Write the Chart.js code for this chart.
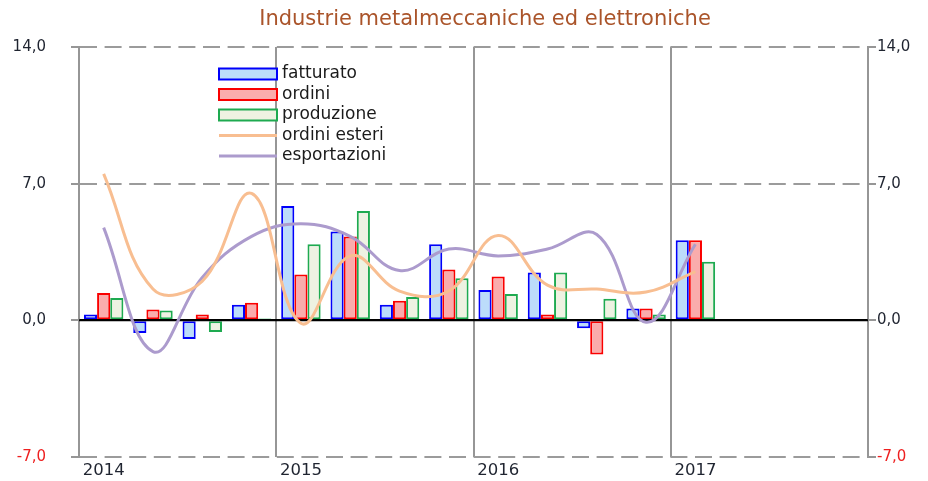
<!DOCTYPE html>
<html><head><meta charset="utf-8">
<script src="https://cdn.jsdelivr.net/npm/chart.js@4"></script>
<style>html,body{margin:0;padding:0;background:#fff}#wrap{position:relative;width:928px;height:481px}</style>
</head><body><div id="wrap"><canvas id="c" width="928" height="481"></canvas></div>
<script>
// ---- data ----
const title = 'Industrie metalmeccaniche ed elettroniche';
const quarters = ['I 2014','II 2014','III 2014','IV 2014','I 2015','II 2015','III 2015','IV 2015','I 2016','II 2016','III 2016','IV 2016','I 2017','II 2017','III 2017','IV 2017'];
const years = ['2014','2015','2016','2017'];
const yTicks = [-7, 0, 7, 14];
const fatturato    = [0.3, -0.65, -0.95, 0.8, 5.85, 4.55, 0.8, 3.9, 1.55, 2.45, -0.4, 0.6, 4.1, null, null, null];
const ordini       = [1.4, 0.55, 0.3, 0.9, 2.35, 4.3, 1.0, 2.6, 2.25, 0.3, -1.75, 0.6, 4.1, null, null, null];
const produzione   = [1.15, 0.5, -0.6, 0.1, 3.9, 5.6, 1.2, 2.15, 1.35, 2.45, 1.1, 0.3, 3.0, null, null, null];
const ordiniEsteri = [7.5, 1.6, 2.0, 6.5, -0.15, 3.3, 1.5, 1.5, 4.35, 1.8, 1.6, 1.45, 2.5, null, null, null];
const esportazioni = [4.75, -1.6, 2.2, 4.3, 4.95, 4.3, 2.55, 3.65, 3.3, 3.65, 4.4, -0.1, 3.9, null, null, null];

const FONT = '"DejaVu Sans", Verdana, sans-serif';
const fmt = v => v.toFixed(1).replace('.', ',');
const tickColor = ctx => (ctx.tick && ctx.tick.value < 0) ? '#ee2020' : '#1f2430';

const titlePlugin = {
  id: 'customTitle',
  afterDraw(chart) {
    const ctx = chart.ctx;
    ctx.save();
    ctx.font = '21px ' + FONT;
    ctx.fillStyle = 'rgb(170,84,42)';
    ctx.textAlign = 'center';
    ctx.textBaseline = 'middle';
    ctx.fillText(title, 485, 20);
    ctx.restore();
  }
};

const legendPlugin = {
  id: 'customLegend',
  afterDraw(chart) {
    const ctx = chart.ctx;
    const x0 = 219, w = 58, y0 = 74, step = 20.5, tx = 282;
    ctx.save();
    ctx.font = '17px ' + FONT;
    ctx.textBaseline = 'middle';
    const order = [2, 3, 4, 0, 1];
    order.forEach((di, r) => {
      const ds = chart.data.datasets[di];
      const y = y0 + r * step;
      if (ds.type === 'line') {
        ctx.strokeStyle = ds.borderColor; ctx.lineWidth = 3;
        ctx.beginPath(); ctx.moveTo(x0, y); ctx.lineTo(x0 + w, y); ctx.stroke();
      } else {
        ctx.fillStyle = ds.backgroundColor;
        ctx.fillRect(x0, y - 5.5, w, 11);
        ctx.strokeStyle = ds.borderColor; ctx.lineWidth = 2;
        ctx.strokeRect(x0, y - 5.5, w, 11);
      }
      ctx.fillStyle = '#1a1a1a';
      ctx.fillText(ds.label, tx, y);
    });
    ctx.restore();
  }
};

const zeroLinePlugin = {
  id: 'zeroLine',
  afterDatasetDraw(chart, args) {
    if (args.index !== 2) return;
    const y = chart.scales.y.getPixelForValue(0);
    const a = chart.chartArea, ctx = chart.ctx;
    ctx.save();
    ctx.strokeStyle = '#000'; ctx.lineWidth = 2;
    ctx.beginPath(); ctx.moveTo(a.left, y); ctx.lineTo(a.right, y); ctx.stroke();
    ctx.restore();
  }
};

const fitY = w => s => { s.width = w; s.paddingTop = 0; s.paddingBottom = 0; };

new Chart(document.getElementById('c'), {
  data: {
    labels: quarters,
    datasets: [
      { type: 'line', label: 'ordini esteri', data: ordiniEsteri, borderColor: 'rgb(248,190,145)', borderWidth: 3, pointRadius: 0, tension: 0.4, order: 0, yAxisID: 'y' },
      { type: 'line', label: 'esportazioni', data: esportazioni, borderColor: 'rgb(172,155,205)', borderWidth: 3, pointRadius: 0, tension: 0.4, order: 0, yAxisID: 'y' },
      { type: 'bar', label: 'fatturato', data: fatturato, backgroundColor: 'rgb(188,220,250)', borderColor: 'rgb(0,0,250)', borderWidth: 2, order: 1, yAxisID: 'y' },
      { type: 'bar', label: 'ordini', data: ordini, backgroundColor: 'rgb(250,172,172)', borderColor: 'rgb(250,0,0)', borderWidth: 2, order: 1, yAxisID: 'y' },
      { type: 'bar', label: 'produzione', data: produzione, backgroundColor: 'rgb(238,242,226)', borderColor: 'rgb(30,170,80)', borderWidth: 2, order: 1, yAxisID: 'y' }
    ]
  },
  options: {
    responsive: false,
    animation: false,
    layout: { padding: { left: 0, right: 0, top: 47, bottom: 0 } },
    datasets: { bar: { categoryPercentage: 0.8, barPercentage: 1.0, borderSkipped: false } },
    plugins: {
      legend: { display: false },
      tooltip: { enabled: false },
      title: { display: false }
    },
    scales: {
      x: {
        offset: true,
        afterFit: s => { s.height = 24; },
        border: { display: false },
        grid: {
          offset: true,
          drawTicks: false,
          lineWidth: 2,
          color: ctx => (ctx.index % 4 === 0) ? 'rgb(150,150,150)' : 'rgba(0,0,0,0)'
        },
        ticks: {
          autoSkip: false, maxRotation: 0, minRotation: 0,
          align: 'start', labelOffset: -21, padding: 4,
          color: '#1f2430',
          font: { family: FONT, size: 16.5 },
          callback: (v, i) => (i % 4 === 0) ? years[i / 4] : ''
        }
      },
      y: {
        position: 'left',
        min: -7, max: 14,
        afterFit: fitY(79),
        afterBuildTicks: s => { s.ticks = yTicks.map(v => ({ value: v })); },
        border: { display: true, color: 'rgb(150,150,150)', width: 2,
                  dash: ctx => (ctx.tick && ctx.tick.value === 0) ? [] : [17, 7.6] },
        grid: {
          lineWidth: 2, tickLength: 8,
          color: ctx => (ctx.tick && ctx.tick.value === 0) ? '#000' : 'rgb(155,155,155)',
          tickColor: 'rgb(150,150,150)'
        },
        ticks: {
          padding: 25,
          color: tickColor,
          font: { family: FONT, size: 15 },
          callback: v => fmt(v)
        }
      },
      y2: {
        position: 'right',
        min: -7, max: 14,
        afterFit: fitY(60),
        afterBuildTicks: s => { s.ticks = yTicks.map(v => ({ value: v })); },
        border: { display: true, color: 'rgb(150,150,150)', width: 2 },
        grid: { drawOnChartArea: false, drawTicks: true, tickLength: 8, lineWidth: 2, color: 'rgb(150,150,150)' },
        ticks: {
          padding: 1,
          color: tickColor,
          font: { family: FONT, size: 15 },
          callback: v => fmt(v)
        }
      }
    }
  },
  plugins: [titlePlugin, legendPlugin, zeroLinePlugin]
});
</script>
</body></html>
